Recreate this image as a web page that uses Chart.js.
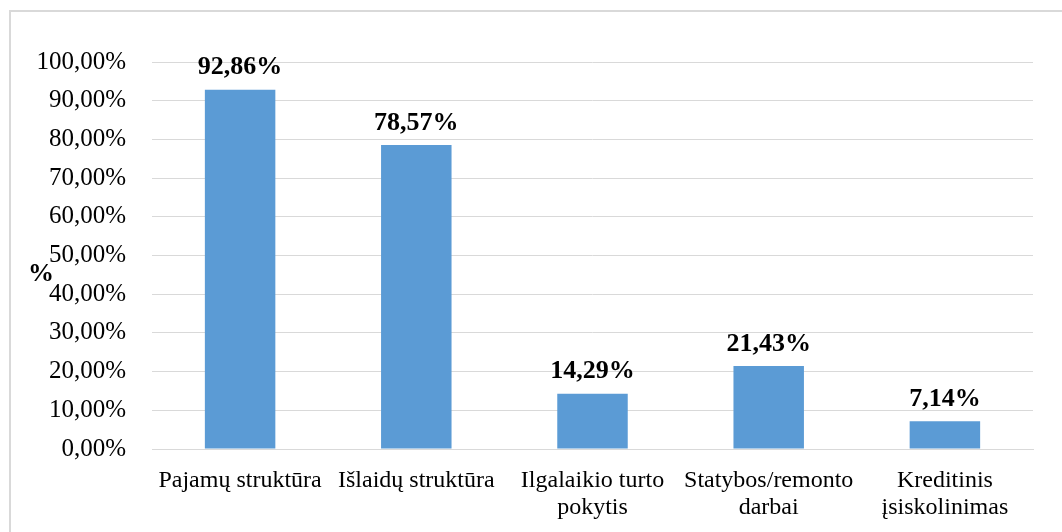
<!DOCTYPE html>
<html>
<head>
<meta charset="utf-8">
<script src="https://cdn.jsdelivr.net/npm/chart.js@4/dist/chart.umd.min.js"></script>
<style>
  html, body { margin: 0; padding: 0; background: #fff; }
  #wrap { position: relative; width: 1062px; height: 532px; overflow: hidden; }
  #frame { position: absolute; left: 9px; top: 10px; width: 1100px; height: 600px;
           border-top: 2px solid #d9d9d9; border-left: 2px solid #d9d9d9; }
  canvas { position: absolute; left: 0; top: 0; }
</style>
</head>
<body>
<div id="wrap">
  <div id="frame"></div>
  <canvas id="barChart" width="1062" height="532"></canvas>
</div>
<script>
const categories = [
  ['Pajamų struktūra'],
  ['Išlaidų struktūra'],
  ['Ilgalaikio turto', 'pokytis'],
  ['Statybos/remonto', 'darbai'],
  ['Kreditinis', 'įsiskolinimas']
];
const shares = [92.86, 78.57, 14.29, 21.43, 7.14];
const yTickStep = 10;
const yMax = 100;

const serif = '"Liberation Serif", "Times New Roman", serif';

function pct(v) {
  return v.toFixed(2).replace('.', ',') + '%';
}

// bold value labels above each bar + the "%" axis title
const labelPlugin = {
  id: 'barLabels',
  afterDatasetsDraw(chart) {
    const ctx = chart.ctx;
    const meta = chart.getDatasetMeta(0);
    ctx.save();
    ctx.font = 'bold 26px ' + serif;
    ctx.fillStyle = '#000';
    ctx.textAlign = 'center';
    ctx.textBaseline = 'bottom';
    meta.data.forEach(function(bar, i) {
      ctx.fillText(pct(shares[i]), bar.x, bar.y - 9);
    });
    ctx.textBaseline = 'middle';
    ctx.fillText('%', 41, 274);
    ctx.restore();
  }
};

const ctx = document.getElementById('barChart').getContext('2d');
new Chart(ctx, {
  type: 'bar',
  data: {
    labels: categories,
    datasets: [{
      data: shares,
      backgroundColor: '#5B9BD5',
      barPercentage: 0.4,
      categoryPercentage: 1.0
    }]
  },
  options: {
    responsive: false,
    animation: false,
    layout: { padding: { top: 62, right: 29, left: 0, bottom: 0 } },
    plugins: {
      legend: { display: false },
      tooltip: { enabled: false }
    },
    scales: {
      x: {
        grid: { display: false },
        border: { display: true, color: '#d9d9d9' },
        ticks: {
          color: '#000',
          font: { family: serif, size: 24, lineHeight: 1.12 },
          padding: 10,
          maxRotation: 0,
          autoSkip: false
        },
        afterFit(scale) { scale.height = 83; }
      },
      y: {
        min: 0,
        max: yMax,
        grid: { color: '#d9d9d9', drawTicks: false },
        border: { display: false },
        ticks: {
          stepSize: yTickStep,
          color: '#000',
          font: { family: serif, size: 25 },
          padding: 26,
          callback: function(v) { return pct(v); }
        },
        afterFit(scale) { scale.width = 152; }
      }
    }
  },
  plugins: [labelPlugin]
});
</script>
</body>
</html>
